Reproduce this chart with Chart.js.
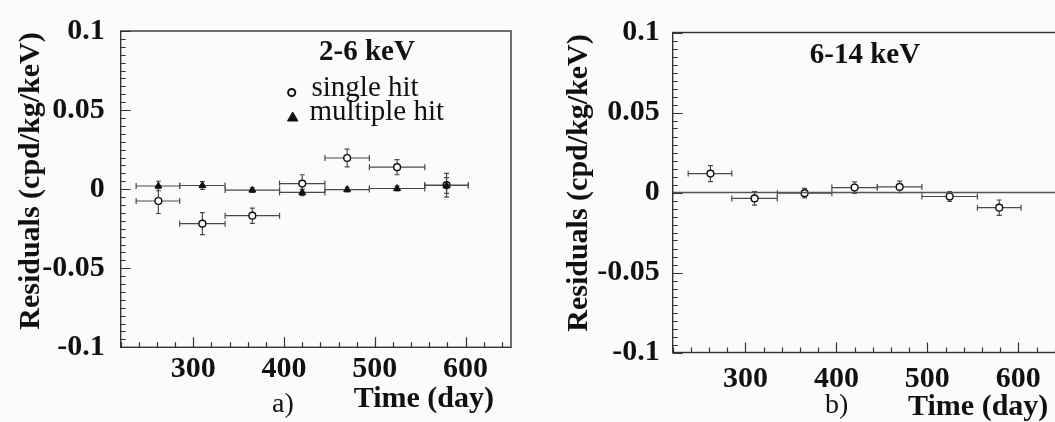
<!DOCTYPE html>
<html>
<head>
<meta charset="utf-8">
<script src="https://cdn.jsdelivr.net/npm/chart.js@4.4.1/dist/chart.umd.min.js"></script>
<style>
  html, body { margin: 0; padding: 0; background: #fbfbfb; overflow: hidden; width: 1055px; height: 422px; }
  canvas { position: absolute; top: 0; }
  #panelA { left: 0; }
  #panelB { left: 527px; }
</style>
</head>
<body>
<canvas id="panelA" width="527" height="422"></canvas>
<canvas id="panelB" width="545" height="422"></canvas>
<script>
// Time bins (day): lower edge, upper edge and centre of each bin
const binLow    = [237, 285, 335, 395, 445, 494, 555];
const binHigh   = [285, 335, 395, 445, 494, 555, 603];
const binCenter = [261.5, 310, 365, 420, 469.5, 524.5, 579];

// 2-6 keV residuals (cpd/kg/keV)
const singleHit2to6    = [-0.0075, -0.0218, -0.0168, 0.0035, 0.0197, 0.0139, 0.0025];
const singleHit2to6Err = [0.0079, 0.0069, 0.0048, 0.0056, 0.0056, 0.0048, 0.0075];
const multiHit2to6     = [0.0020, 0.0023, -0.0006, -0.0021, -0.0003, 0.0004, 0.0023];
const multiHit2to6Err  = [0.0030, 0.0025, 0.0015, 0.0020, 0.0015, 0.0015, 0.0050];

// 6-14 keV residuals (cpd/kg/keV)
const singleHit6to14    = [0.0118, -0.0037, -0.0004, 0.0031, 0.0035, -0.0025, -0.0095];
const singleHit6to14Err = [0.0050, 0.0042, 0.0030, 0.0036, 0.0036, 0.0030, 0.0048];

// Axis ranges and ticks
const xRange = [220, 650];
const yRange = [-0.1, 0.1];
const xMajorTicks = [300, 400, 500, 600];
const xMinorStep = 20;
const yMajorTicks = [-0.1, -0.05, 0, 0.05, 0.1];
const yTickLabels = ['-0.1', '-0.05', '0', '0.05', '0.1'];
const yMinorStep = 0.005;

const SERIF = "'Liberation Serif', 'Times New Roman', serif";
const INK = '#111';

function pointSet(label, values, errors, style) {
  const open = style === 'circle';
  return {
    label: label,
    data: binCenter.map((x, i) => ({ x: x, y: values[i] })),
    errY: errors,
    xLow: binLow,
    xHigh: binHigh,
    pointStyle: style,
    pointRadius: open ? 3.4 : 4,
    pointBackgroundColor: open ? '#ffffff' : INK,
    pointBorderColor: INK,
    pointBorderWidth: open ? 1.4 : 1,
    showLine: false
  };
}

// Horizontal bin-width bars and vertical error bars under each marker
const errorBars = {
  id: 'errorBars',
  beforeDatasetsDraw(chart) {
    const { ctx, scales: { x, y } } = chart;
    ctx.save();
    ctx.strokeStyle = '#4a4a4a';
    ctx.lineWidth = 1.2;
    chart.data.datasets.forEach(ds => {
      if (!ds.errY) return;
      ds.data.forEach((p, i) => {
        const px = x.getPixelForValue(p.x), py = y.getPixelForValue(p.y);
        const xl = x.getPixelForValue(ds.xLow[i]), xh = x.getPixelForValue(ds.xHigh[i]);
        const yl = y.getPixelForValue(p.y - ds.errY[i]), yh = y.getPixelForValue(p.y + ds.errY[i]);
        ctx.beginPath();
        ctx.moveTo(xl, py); ctx.lineTo(xh, py);
        ctx.moveTo(xl, py - 3); ctx.lineTo(xl, py + 3);
        ctx.moveTo(xh, py - 3); ctx.lineTo(xh, py + 3);
        ctx.moveTo(px, yl); ctx.lineTo(px, yh);
        ctx.moveTo(px - 2.5, yl); ctx.lineTo(px + 2.5, yl);
        ctx.moveTo(px - 2.5, yh); ctx.lineTo(px + 2.5, yh);
        ctx.stroke();
      });
    });
    ctx.restore();
  }
};

// Box frame with inward major / minor tick marks on the bottom and left edges
const frameTicks = {
  id: 'frameTicks',
  afterDatasetsDraw(chart) {
    const { ctx, chartArea: a, scales: { x, y } } = chart;
    ctx.save();
    ctx.strokeStyle = '#333';
    ctx.lineWidth = 1.2;
    ctx.beginPath();
    for (let v = xRange[0]; v <= xRange[1] + 1e-9; v += xMinorStep) {
      const major = xMajorTicks.includes(Math.round(v));
      const px = Math.round(x.getPixelForValue(v)) + 0.5;
      ctx.moveTo(px, a.bottom);
      ctx.lineTo(px, a.bottom - (major ? 10 : 5));
    }
    for (let k = 0; k <= Math.round((yRange[1] - yRange[0]) / yMinorStep); k++) {
      const v = yRange[0] + k * yMinorStep;
      const major = k % 10 === 0;
      const py = Math.round(y.getPixelForValue(v)) + 0.5;
      ctx.moveTo(a.left, py);
      ctx.lineTo(a.left + (major ? 10 : 5), py);
    }
    ctx.stroke();
    ctx.lineWidth = 1.4;
    ctx.strokeRect(a.left, a.top, a.right - a.left, a.bottom - a.top);
    ctx.restore();
  }
};

// Axis titles, panel letter, energy window and legend
const annotations = {
  id: 'annotations',
  afterDraw(chart, args, opts) {
    const ctx = chart.ctx;
    ctx.save();
    ctx.fillStyle = INK;
    (opts.texts || []).forEach(t => {
      ctx.save();
      ctx.font = (t.bold ? 'bold ' : '') + t.size + 'px ' + SERIF;
      ctx.textAlign = t.align || 'left';
      ctx.textBaseline = t.baseline || 'alphabetic';
      ctx.translate(t.x, t.y);
      if (t.rotate) ctx.rotate(t.rotate);
      ctx.fillText(t.text, 0, 0);
      ctx.restore();
    });
    (opts.keys || []).forEach(k => {
      const ds = chart.data.datasets[k.dataset];
      ctx.fillStyle = ds.pointBackgroundColor;
      ctx.strokeStyle = ds.pointBorderColor;
      ctx.lineWidth = k.borderWidth;
      ctx.beginPath();
      if (ds.pointStyle === 'circle') {
        ctx.arc(k.x, k.y, k.radius, 0, Math.PI * 2);
      } else {
        ctx.moveTo(k.x, k.y - k.radius);
        ctx.lineTo(k.x + k.radius * 1.05, k.y + k.radius * 0.8);
        ctx.lineTo(k.x - k.radius * 1.05, k.y + k.radius * 0.8);
        ctx.closePath();
      }
      ctx.fill();
      ctx.stroke();
    });
    ctx.restore();
  }
};

function makePanel(canvasId, datasets, geo, texts, keys) {
  const tickFont = { family: SERIF, weight: 'bold', size: 30, lineHeight: 1 };
  return new Chart(document.getElementById(canvasId), {
    type: 'scatter',
    data: { datasets: datasets },
    options: {
      responsive: false,
      animation: false,
      devicePixelRatio: 1,
      layout: { padding: { left: 0, top: geo.top, right: geo.right, bottom: 0 } },
      plugins: {
        legend: { display: false },
        tooltip: { enabled: false },
        annotations: { texts: texts, keys: keys }
      },
      scales: {
        x: {
          type: 'linear',
          position: 'bottom',
          min: xRange[0],
          max: xRange[1],
          grid: { display: false, drawTicks: false },
          border: { display: false },
          afterBuildTicks: s => { s.ticks = xMajorTicks.map(v => ({ value: v })); },
          afterFit: s => { s.height = geo.xAxisHeight; },
          ticks: {
            font: tickFont, color: INK, padding: geo.xPad,
            maxRotation: 0, autoSkip: false,
            callback: v => String(v)
          }
        },
        y: {
          type: 'linear',
          position: 'left',
          min: yRange[0],
          max: yRange[1],
          grid: { display: false, drawTicks: false },
          border: { display: false },
          afterBuildTicks: s => { s.ticks = yMajorTicks.map(v => ({ value: v })); },
          afterFit: s => { s.width = geo.yAxisWidth; },
          ticks: {
            font: tickFont, color: INK, padding: geo.yPad, autoSkip: false,
            callback: (v, i) => yTickLabels[i]
          }
        }
      }
    },
    plugins: [errorBars, frameTicks, annotations]
  });
}

const yTitle = 'Residuals (cpd/kg/keV)';
const xTitle = 'Time (day)';

// a) 2-6 keV: single and multiple hit events
makePanel('panelA',
  [
    pointSet('multiple hit', multiHit2to6, multiHit2to6Err, 'triangle'),
    pointSet('single hit', singleHit2to6, singleHit2to6Err, 'circle')
  ],
  { top: 26.7, right: 16, xAxisHeight: 74.7, yAxisWidth: 120.7, xPad: 7, yPad: 16 },
  [
    { text: yTitle, x: 39, y: 181, rotate: -Math.PI / 2, align: 'center', bold: true, size: 30 },
    { text: xTitle, x: 494, y: 407, align: 'right', bold: true, size: 30 },
    { text: 'a)', x: 272, y: 412, size: 28 },
    { text: '2-6 keV', x: 367, y: 60, align: 'center', bold: true, size: 29 },
    { text: 'single hit', x: 311.5, y: 96, size: 29 },
    { text: 'multiple hit', x: 309.5, y: 119.5, size: 29 }
  ],
  [
    { dataset: 1, x: 291.7, y: 92.5, radius: 3.6, borderWidth: 2 },
    { dataset: 0, x: 292.7, y: 117, radius: 5, borderWidth: 1 }
  ]
);

// b) 6-14 keV: single hit events with the zero reference line
makePanel('panelB',
  [
    {
      type: 'line',
      label: 'zero',
      data: [{ x: xRange[0], y: 0 }, { x: xRange[1], y: 0 }],
      borderColor: '#555',
      borderWidth: 1.4,
      pointRadius: 0,
      showLine: true
    },
    pointSet('single hit', singleHit6to14, singleHit6to14Err, 'circle')
  ],
  { top: 32.5, right: 8.2, xAxisHeight: 69.5, yAxisWidth: 145.7, xPad: 12, yPad: 13 },
  [
    { text: yTitle, x: 60, y: 183, rotate: -Math.PI / 2, align: 'center', bold: true, size: 30 },
    { text: xTitle, x: 521.3, y: 415, align: 'right', bold: true, size: 30 },
    { text: 'b)', x: 298, y: 413, size: 28 },
    { text: '6-14 keV', x: 338, y: 63, align: 'center', bold: true, size: 29 }
  ],
  []
);
</script>
</body>
</html>
